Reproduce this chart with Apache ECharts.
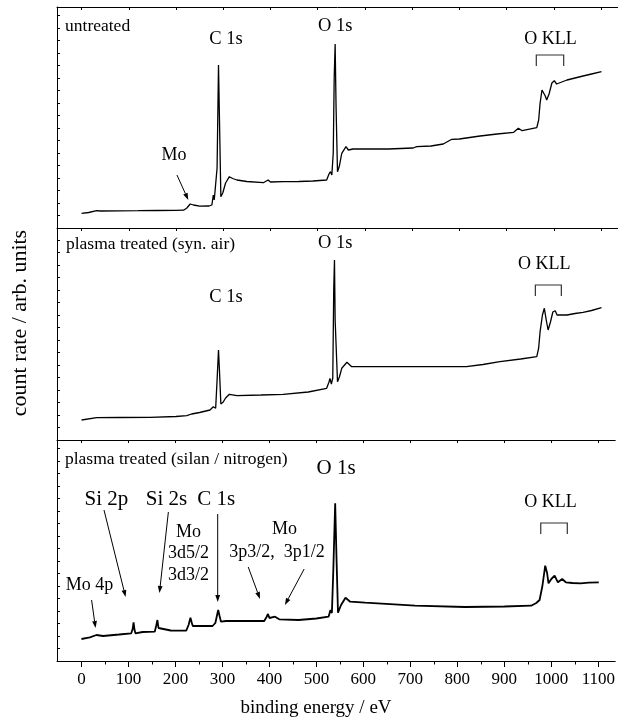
<!DOCTYPE html>
<html><head><meta charset="utf-8">
<script src="https://cdn.jsdelivr.net/npm/echarts@6/dist/echarts.min.js"></script>
<style>html,body{margin:0;padding:0;background:#fff}#c{width:618px;height:722px}</style>
</head><body><div id="c"></div>
<script>
// ---- data (binding energy eV, count rate arb. units) ----
const xTickValues = [0,100,200,300,400,500,600,700,800,900,1000,1100];
const xMinorTickValues = [50,150,250,350,450,550,650,750,850,950,1050];

const untreated = [[0,14.7],[15,15.5],[32,17.3],[40,17],[80,17.2],[120,17.3],[160,17.5],[200,17.6],[216,17.8],[223,20],[230,24],[233,25.7],[237,23],[240,21.3],[250,21.8],[270,22],[276,23],[279,33],[281,28],[284,26],[287,60],[290,163],[292,110],[295,31.3],[299,35],[305,45],[313,51.3],[320,49.5],[329,48],[350,46.5],[385,45.3],[395,48],[400,46],[427,46.3],[460,46.5],[490,47],[519,48],[524,54],[527,56.3],[530,53],[533,75],[535,150],[537,184],[539,120],[542,56.3],[546,62],[551,74.7],[560,81.3],[565,78],[569,76.3],[575,79],[600,79],[650,79],[702,80],[710,81.3],[740,82],[766,84],[784,88.7],[800,89],[844,92],[880,94],[915,95.7],[925,99.7],[933,97.3],[964,100.3],[968,108],[971,124.7],[975,138],[978,139.7],[982,132],[985,128],[990,134],[996,145],[1001,147.3],[1006,144],[1010,143],[1028,148],[1045,150],[1062,152],[1080,154],[1101,156.3]];

const synAir = [[0,20],[32,22.3],[80,22.5],[145,22.7],[200,23.5],[223,24.3],[233,26],[250,27.5],[272,30],[279,33.3],[284,31.7],[287,60],[290,90],[292,70],[295,36],[300,38],[305,42],[313,45.7],[329,44.3],[380,45],[427,45.7],[480,48],[519,51.7],[524,58],[526,61.7],[529,56],[532,62],[534,150],[535.6,180],[537,120],[542,58.3],[546,63],[551,71.7],[562,77.7],[572,73.3],[604,73.3],[700,73.3],[815,73.3],[850,75.5],[886,78.3],[930,81],[964,83.3],[968,92],[971,108.3],[976,125],[980,131.7],[984,120],[988,110],[993,118],[998,128],[1003,129.3],[1007,125],[1010,123.3],[1028,125],[1045,126.5],[1062,127.7],[1080,129.5],[1101,132.3]];

const silanNitrogen = [[0,22],[18,23.7],[32,26],[46,25],[80,26.5],[106,27.7],[109,32],[111,38.7],[113,31],[115,27.7],[130,29],[156,29.3],[159,35],[161.7,41],[164,33],[166,31],[190,30.5],[223,30.3],[228,36],[232,43.3],[235,38],[237,35],[260,35],[279,35],[285,38],[291,51],[294,45],[297,39.3],[307.5,40],[389,40],[394,44],[397,47],[400,43],[403,41.7],[412,44.3],[416,42.5],[421,41.7],[462,41],[500,42.5],[526,44.3],[530,51],[533,48],[536,90],[540,157.7],[543,100],[546,48.3],[552.5,56],[562,63.3],[572,59.3],[604,58.3],[710,55.3],[816,54],[900,54.5],[957,55.3],[968,58],[975,61],[981,75],[987,95.3],[991,88],[994,77.7],[1000,82],[1007,85.3],[1014,78.7],[1023,82],[1031,78.7],[1045,78],[1062,77.7],[1080,78.3],[1101,78.7]];

const panelNames = ['untreated', 'plasma treated (syn. air)', 'plasma treated (silan / nitrogen)'];
const xAxisTitle = 'binding energy / eV';
const yAxisTitle = 'count rate / arb. units';

// annotations: [panel, text, eV, value, fontSize, align]
const labels = [
  [0, panelNames[0], -35, 202, 17.5, 'left'],
  [0, 'C 1s', 306, 189, 18.5, 'center'],
  [0, 'O 1s', 537, 202, 18.5, 'center'],
  [0, 'Mo', 196, 73, 18, 'center'],
  [0, 'O KLL', 993, 189, 18, 'center'],
  [1, panelNames[1], -33, 196, 17.5, 'left'],
  [1, 'C 1s', 306, 143, 18.5, 'center'],
  [1, 'O 1s', 537, 197, 18.5, 'center'],
  [1, 'O KLL', 980, 176, 18, 'center'],
  [2, panelNames[2], -35, 202, 17.5, 'left'],
  [2, 'Si 2p', 53, 162, 21, 'center'],
  [2, 'Si 2s', 181, 162, 21, 'center'],
  [2, 'C 1s', 287, 162, 21, 'center'],
  [2, 'O 1s', 542, 193, 21, 'center'],
  [2, 'Mo', 228, 129, 18, 'center'],
  [2, '3d5/2', 228, 108, 18, 'center'],
  [2, '3d3/2', 228, 86, 18, 'center'],
  [2, 'Mo', 432, 132, 18, 'center'],
  [2, '3p3/2,  3p1/2', 416, 109, 18, 'center'],
  [2, 'Mo 4p', 17, 76, 18, 'center'],
  [2, 'O KLL', 998, 159, 18, 'center']
];
// arrows: [panel, fromX, fromY, toX, toY]
const arrows = [
  [0, 202, 53, 226, 28],
  [2, 21.6, 61, 30, 33],
  [2, 48, 151, 94, 64],
  [2, 185, 149, 166, 68],
  [2, 290, 147, 290, 59],
  [2, 355, 94, 380, 62],
  [2, 474, 92, 433, 56]
];
// brackets: [panel, leftX, rightX, topY, bottomY]
const brackets = [
  [0, 963, 1021, 173, 162],
  [1, 961, 1016, 155, 144],
  [2, 977.5, 1034, 138, 127]
];

// ---- chart ----
const FONT = '"Liberation Serif", "Times New Roman", serif';
const XMIN = -52, XMAX = 1136;
const grids = [
  {left: 57, right: 0, top: 7, height: 221},
  {left: 57, right: 0, top: 228, height: 212},
  {left: 57, right: 0, top: 440, height: 221}
];
const black = '#000';
function topAxis(i) {
  return {type: 'value', gridIndex: i, position: 'top', min: XMIN, max: XMAX,
    axisLine: {show: true, onZero: false, lineStyle: {color: black, width: 1}},
    axisTick: {show: true, inside: true, length: 3, customValues: xTickValues, lineStyle: {color: black}},
    axisLabel: {show: false}, splitLine: {show: false}};
}
const xAxes = [topAxis(0), topAxis(1), topAxis(2),
  {type: 'value', gridIndex: 2, position: 'bottom', min: XMIN, max: XMAX,
    axisLine: {show: true, onZero: false, lineStyle: {color: black, width: 1}},
    axisTick: {show: true, inside: false, length: 6, customValues: xTickValues, lineStyle: {color: black}},
    axisLabel: {show: true, customValues: xTickValues, formatter: v => String(v), color: black, fontFamily: FONT, fontSize: 17, margin: 10},
    splitLine: {show: false}},
  {type: 'value', gridIndex: 2, position: 'bottom', min: XMIN, max: XMAX,
    axisLine: {show: false, onZero: false},
    axisTick: {show: true, inside: false, length: 3.5, customValues: xMinorTickValues, lineStyle: {color: black}},
    axisLabel: {show: false}, splitLine: {show: false}}
];
const yAxes = grids.map((g, i) => ({type: 'value', gridIndex: i, min: 0, max: g.height, interval: 12.5,
  axisLine: {show: true, onZero: false, lineStyle: {color: black, width: 1}},
  axisTick: {show: true, inside: true, length: 3, lineStyle: {color: black}},
  axisLabel: {show: false}, splitLine: {show: false}}));
const spectra = [untreated, synAir, silanNitrogen];
const widths = [1.3, 1.3, 1.8];
const series = spectra.map((d, i) => ({type: 'line', xAxisIndex: i, yAxisIndex: i, data: d,
  showSymbol: false, symbol: 'none', lineStyle: {color: black, width: widths[i]}, silent: true, animation: false}));

const chart = echarts.init(document.getElementById('c'), null, {renderer: 'canvas'});
chart.setOption({backgroundColor: '#fff', animation: false, grid: grids, xAxis: xAxes, yAxis: yAxes, series: series});

const px = (p, x, y) => chart.convertToPixel({gridIndex: p}, [x, y]);
const graphics = [];
labels.forEach(([p, t, x, y, fs, al]) => {
  const q = px(p, x, y);
  graphics.push({type: 'text', x: q[0], y: q[1], silent: true,
    style: {text: t, x: 0, y: 0, fill: black, font: fs + 'px ' + FONT, textAlign: al, textVerticalAlign: 'middle'}});
});
arrows.forEach(([p, x1, y1, x2, y2]) => {
  const a = px(p, x1, y1), b = px(p, x2, y2);
  const dx = b[0] - a[0], dy = b[1] - a[1], L = Math.hypot(dx, dy);
  const ux = dx / L, uy = dy / L, h = 7, w = 2.4;
  const bx = b[0] - ux * h, by = b[1] - uy * h;
  graphics.push({type: 'line', silent: true, shape: {x1: a[0], y1: a[1], x2: bx, y2: by}, style: {stroke: black, lineWidth: 1}});
  graphics.push({type: 'polygon', silent: true, shape: {points: [[b[0], b[1]], [bx - uy * w, by + ux * w], [bx + uy * w, by - ux * w]]}, style: {fill: black}});
});
brackets.forEach(([p, l, r, t, b]) => {
  const p1 = px(p, l, b), p2 = px(p, l, t), p3 = px(p, r, t), p4 = px(p, r, b);
  graphics.push({type: 'polyline', silent: true, shape: {points: [p1, p2, p3, p4]}, style: {stroke: '#333', lineWidth: 1.2, fill: null}});
});
graphics.push({type: 'text', x: 316, y: 708, silent: true,
  style: {text: xAxisTitle, x: 0, y: 0, fill: black, font: '19px ' + FONT, textAlign: 'center', textVerticalAlign: 'middle'}});
graphics.push({type: 'text', x: 20, y: 323, rotation: Math.PI / 2, silent: true,
  style: {text: yAxisTitle, x: 0, y: 0, fill: black, font: '22px ' + FONT, textAlign: 'center', textVerticalAlign: 'middle'}});
chart.setOption({graphic: {elements: graphics}});
</script></body></html>
